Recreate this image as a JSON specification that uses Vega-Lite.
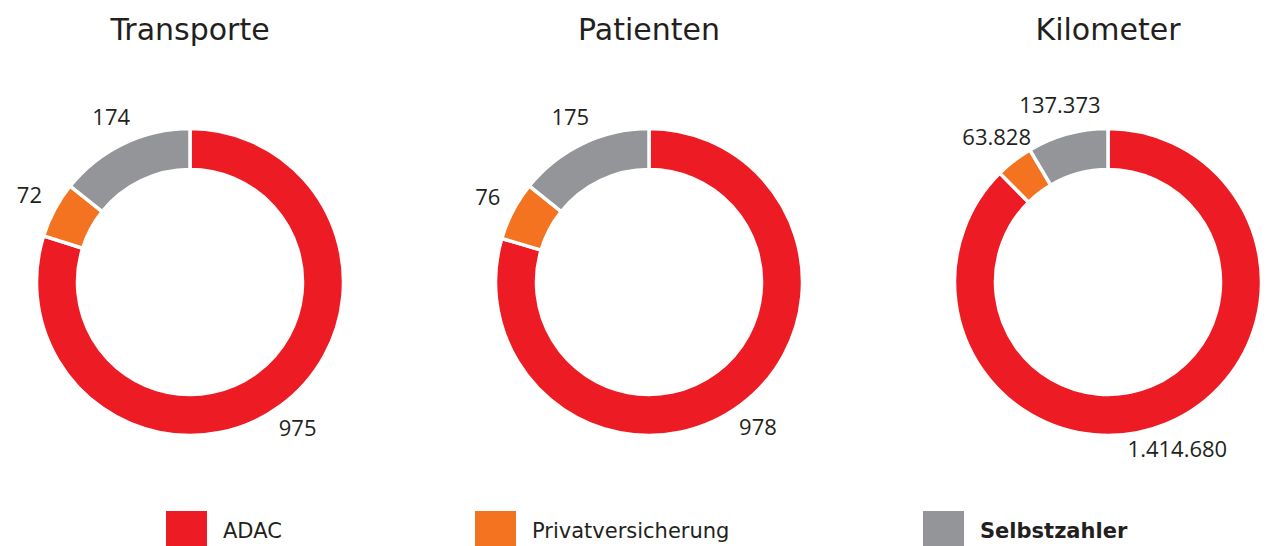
{
  "$schema": "https://vega.github.io/schema/vega-lite/v6.json",
  "padding": {"left": 16, "top": 16, "right": 0, "bottom": 0},
  "background": "white",
  "bounds": "flush",
  "data": {
    "values": [
      {"chart": "Transporte", "kat": "ADAC", "wert": 975},
      {"chart": "Transporte", "kat": "Privatversicherung", "wert": 72},
      {"chart": "Transporte", "kat": "Selbstzahler", "wert": 174},
      {"chart": "Patienten", "kat": "ADAC", "wert": 978},
      {"chart": "Patienten", "kat": "Privatversicherung", "wert": 76},
      {"chart": "Patienten", "kat": "Selbstzahler", "wert": 175},
      {"chart": "Kilometer", "kat": "ADAC", "wert": 1414680},
      {"chart": "Kilometer", "kat": "Privatversicherung", "wert": 63828},
      {"chart": "Kilometer", "kat": "Selbstzahler", "wert": 137373}
    ]
  },
  "facet": {
    "column": {
      "field": "chart",
      "type": "nominal",
      "sort": ["Transporte", "Patienten", "Kilometer"],
      "header": {
        "title": null,
        "labelFont": "DejaVu Sans",
        "labelFontSize": 30,
        "labelColor": "#231f20",
        "labelPadding": 71
      }
    }
  },
  "spacing": 119,
  "spec": {
    "width": 340,
    "height": 330,
    "layer": [
      {
        "mark": {"type": "arc", "outerRadius": 153.5, "innerRadius": 112.5, "stroke": "white", "strokeWidth": 3.5},
        "encoding": {
          "theta": {"field": "wert", "type": "quantitative", "stack": "normalize"},
          "order": {"field": "kat", "type": "ordinal", "sort": "ascending"},
          "color": {
            "field": "kat",
            "type": "nominal",
            "scale": {"domain": ["ADAC", "Privatversicherung", "Selbstzahler"], "range": ["#ED1C24", "#F47321", "#939598"]},
            "legend": {
              "title": null,
              "orient": "bottom",
              "direction": "horizontal",
              "offset": 49,
              "symbolType": "square",
              "symbolSize": 1681,
              "symbolStrokeWidth": 0,
              "symbolOpacity": 1,
              "labelFont": "DejaVu Sans",
              "labelFontSize": 21,
              "labelColor": "#231f20",
              "labelOffset": 16,
              "labelLimit": 400,
              "columnPadding": 193,
              "encoding": {
                "labels": {
                  "fontWeight": {"condition": {"test": "datum.value === 'Selbstzahler'", "value": "bold"}, "value": "normal"}
                }
              }
            }
          }
        }
      },
      {
        "mark": {"type": "text", "radius": 182, "font": "Open Sans", "fontSize": 22, "color": "#231f20", "align": "center", "baseline": "middle"},
        "encoding": {
          "theta": {"field": "wert", "type": "quantitative", "stack": "normalize"},
          "order": {"field": "kat", "type": "ordinal", "sort": "ascending"},
          "detail": {"field": "kat", "type": "nominal"},
          "text": {"field": "wert", "type": "quantitative", "format": ",d"}
        }
      }
    ]
  },
  "config": {
    "view": {"stroke": null},
    "legend": {"layout": {"bottom": {"anchor": "middle"}}},
    "locale": {"number": {"decimal": ",", "thousands": ".", "grouping": [3], "currency": ["", " €"]}}
  }
}
